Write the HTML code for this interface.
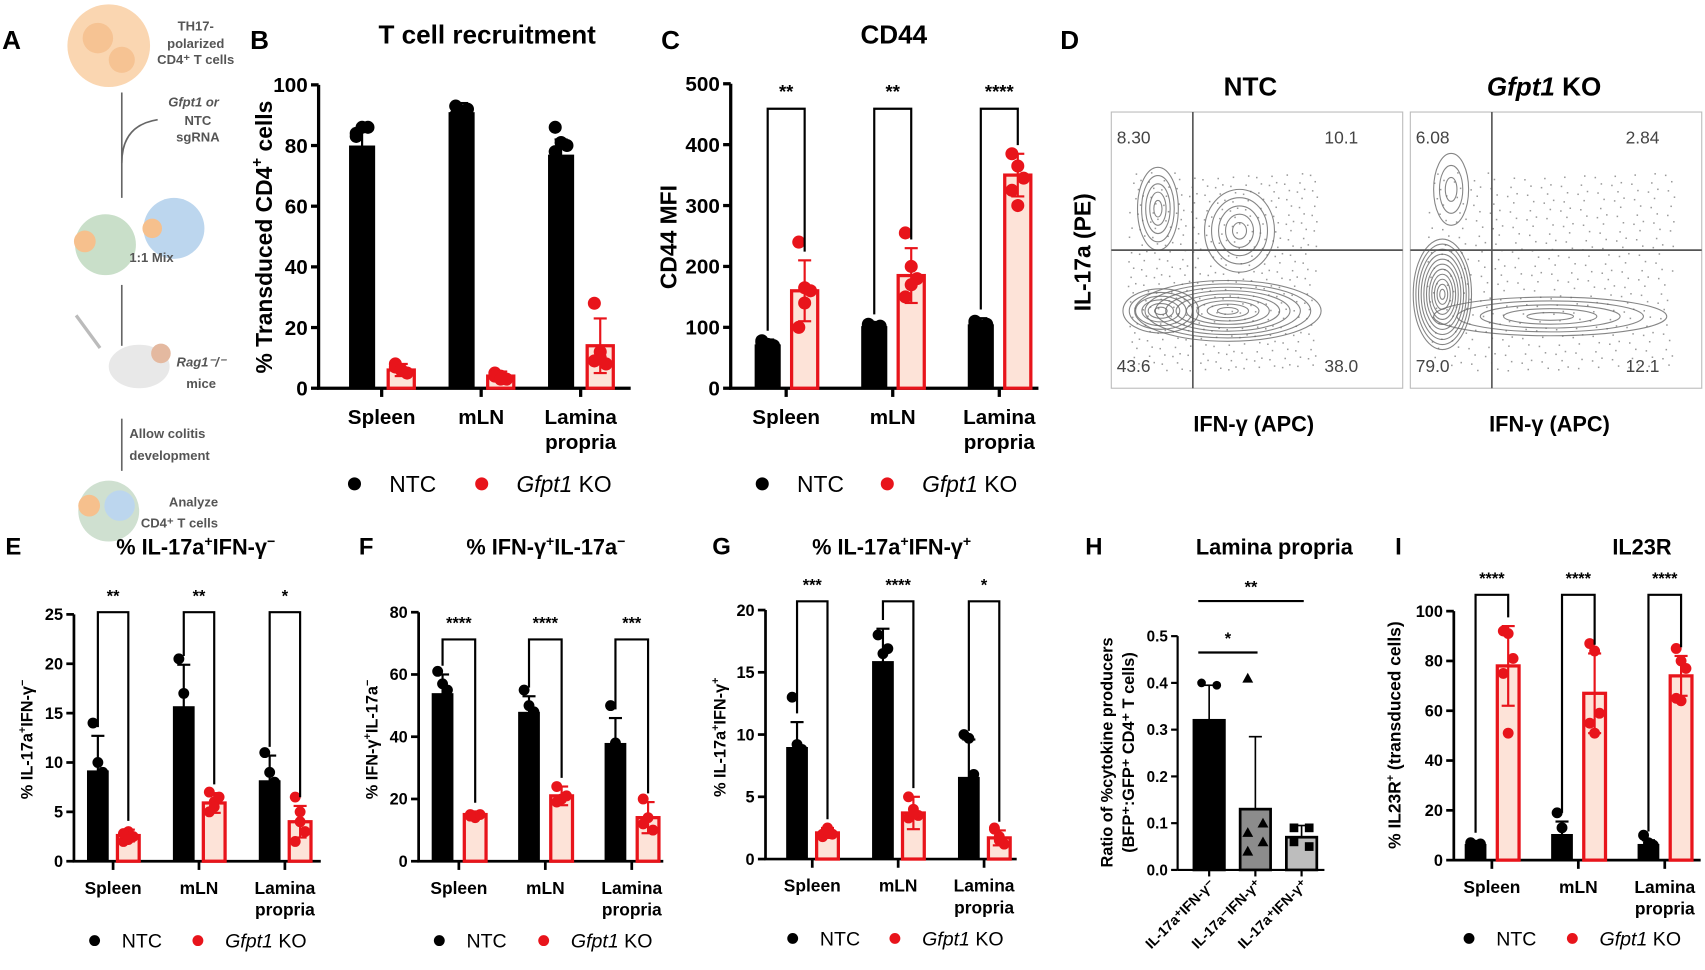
<!DOCTYPE html>
<html><head><meta charset="utf-8"><style>
html,body{margin:0;padding:0;background:#fff;}
svg{display:block;font-family:"Liberation Sans",Arial,sans-serif;}
.b{font-weight:bold;}
</style></head><body>
<svg id="fig" width="1705" height="970" viewBox="0 0 1568 892" xmlns="http://www.w3.org/2000/svg">
<g>
<text x="2" y="45" class="b" font-size="24">A</text>
<circle cx="100" cy="42" r="38" fill="#f9cfa3" opacity="0.85"/>
<circle cx="90" cy="35" r="14" fill="#f4b57e" opacity="0.6"/><circle cx="112" cy="55" r="12" fill="#f4b57e" opacity="0.6"/>
<text font-size="12" fill="#555" class="b" text-anchor="middle"><tspan x="180" y="28">TH17-</tspan><tspan x="180" y="44">polarized</tspan><tspan x="180" y="59">CD4⁺ T cells</tspan></text>
<line x1="112" y1="85" x2="112" y2="182" stroke="#666" stroke-width="1.5"/>
<path d="M112 150 Q112 115 145 110" fill="none" stroke="#666" stroke-width="1.5"/>
<text font-size="12" fill="#555" class="b" text-anchor="middle"><tspan x="178" y="98" font-style="italic">Gfpt1 or</tspan><tspan x="182" y="115">NTC</tspan><tspan x="182" y="130">sgRNA</tspan></text>
<circle cx="97" cy="225" r="28" fill="#c9dfc9"/><circle cx="78" cy="222" r="10" fill="#f6c08d"/>
<circle cx="160" cy="210" r="28" fill="#bcd6ee"/><circle cx="140" cy="210" r="9" fill="#f6c08d"/>
<line x1="112" y1="262" x2="112" y2="318" stroke="#666" stroke-width="1.5"/>
<text x="119" y="241" font-size="12" fill="#555" class="b">1:1 Mix</text>
<ellipse cx="128" cy="337" rx="28" ry="20" fill="#e8e8e8"/><circle cx="148" cy="325" r="9" fill="#e4b9a0"/>
<line x1="70" y1="290" x2="92" y2="320" stroke="#bbb" stroke-width="3"/>
<text font-size="12" fill="#555" class="b" text-anchor="middle"><tspan x="185" y="337" font-style="italic">Rag1⁻/⁻</tspan><tspan x="185" y="357">mice</tspan></text>
<line x1="112" y1="385" x2="112" y2="433" stroke="#666" stroke-width="1.5"/>
<text font-size="12" fill="#555" class="b"><tspan x="119" y="403">Allow colitis</tspan><tspan x="119" y="423">development</tspan></text>
<circle cx="100" cy="470" r="28" fill="#cfe0d0"/><circle cx="110" cy="465" r="14" fill="#bcd6ee"/><circle cx="82" cy="465" r="10" fill="#f6c08d"/>
<text font-size="12" fill="#555" class="b" text-anchor="middle"><tspan x="178" y="466">Analyze</tspan><tspan x="165" y="485">CD4⁺ T cells</tspan></text>
</g>
<text x="230" y="45" class="b" font-size="24">B</text>
<text x="448" y="40" class="b" font-size="24" text-anchor="middle">T cell recruitment</text>
<text x="608" y="45" class="b" font-size="24">C</text>
<text x="822" y="40" class="b" font-size="24" text-anchor="middle">CD44</text>
<text x="975" y="45" class="b" font-size="24">D</text>
<text x="5" y="510" class="b" font-size="22">E</text>
<text x="180" y="510" class="b" font-size="20" text-anchor="middle">% IL-17a<tspan font-size="13" dy="-8">+</tspan><tspan dy="8">IFN-γ</tspan><tspan font-size="13" dy="-8">−</tspan></text>
<text x="330" y="510" class="b" font-size="22">F</text>
<text x="502" y="510" class="b" font-size="20" text-anchor="middle">% IFN-γ<tspan font-size="13" dy="-8">+</tspan><tspan dy="8">IL-17a</tspan><tspan font-size="13" dy="-8">−</tspan></text>
<text x="655" y="510" class="b" font-size="22">G</text>
<text x="820" y="510" class="b" font-size="20" text-anchor="middle">% IL-17a<tspan font-size="13" dy="-8">+</tspan><tspan dy="8">IFN-γ</tspan><tspan font-size="13" dy="-8">+</tspan></text>
<text x="998" y="510" class="b" font-size="22">H</text>
<text x="1172" y="510" class="b" font-size="20" text-anchor="middle">Lamina propria</text>
<text x="1283" y="510" class="b" font-size="22">I</text>
<text x="1510" y="510" class="b" font-size="20" text-anchor="middle">IL23R</text>
<text transform="translate(250,218) rotate(-90)" class="b" font-size="21" text-anchor="middle">% Transduced CD4<tspan font-size="14" dy="-9">+</tspan><tspan dy="9"> cells</tspan></text>
<text transform="translate(622,218) rotate(-90)" class="b" font-size="21" text-anchor="middle">CD44 MFI</text>
<text transform="translate(30,680) rotate(-90)" class="b" font-size="15" text-anchor="middle">% IL-17a<tspan font-size="10" dy="-6">+</tspan><tspan dy="6">IFN-γ</tspan><tspan font-size="10" dy="-6">−</tspan></text>
<text transform="translate(347,680) rotate(-90)" class="b" font-size="15" text-anchor="middle">% IFN-γ<tspan font-size="10" dy="-6">+</tspan><tspan dy="6">IL-17a</tspan><tspan font-size="10" dy="-6">−</tspan></text>
<text transform="translate(667,678) rotate(-90)" class="b" font-size="15" text-anchor="middle">% IL-17a<tspan font-size="10" dy="-6">+</tspan><tspan dy="6">IFN-γ</tspan><tspan font-size="10" dy="-6">+</tspan></text>
<text transform="translate(1033,692) rotate(-90)" class="b" font-size="15" text-anchor="middle"><tspan x="0" dy="-10">Ratio of %cytokine producers</tspan><tspan x="0" dy="20">(BFP⁺:GFP⁺ CD4⁺ T cells)</tspan></text>
<text transform="translate(1288,676) rotate(-90)" class="b" font-size="16" text-anchor="middle">% IL23R<tspan font-size="10" dy="-6">+</tspan><tspan dy="6"> (transduced cells)</tspan></text>
<g>
<text x="1150" y="88" class="b" font-size="24" text-anchor="middle">NTC</text>
<text x="1420" y="88" class="b" font-size="24" text-anchor="middle"><tspan font-style="italic">Gfpt1</tspan> KO</text>
<text transform="translate(1003,232) rotate(-90)" class="b" font-size="21" text-anchor="middle">IL-17a (PE)</text>
<text x="1153" y="397" class="b" font-size="20" text-anchor="middle">IFN-γ (APC)</text>
<text x="1425" y="397" class="b" font-size="20" text-anchor="middle">IFN-γ (APC)</text>
<g id="flowg"></g>
<g font-size="16" fill="#444">
<text x="1027" y="132">8.30</text>
<text x="1218" y="132">10.1</text>
<text x="1027" y="342">43.6</text>
<text x="1218" y="342">38.0</text>
<text x="1302" y="132">6.08</text>
<text x="1495" y="132">2.84</text>
<text x="1302" y="342">79.0</text>
<text x="1495" y="342">12.1</text>
</g>
</g>
<g id="charts"></g>
</svg>
<script>
const catsStd = ["Spleen", "mLN", "Lamina|propria"];
const legendLabels = ["NTC", "Gfpt1 KO"];
const ticksB = [0, 20, 40, 60, 80, 100];
const ntcB = [80, 91, 77];
const ntcErrB = [6, 3, 5];
const koB = [6, 4, 14];
const koErrB = [2, 1.5, 9];
const ntcPtsB = [[84, 86, 86, 83], [93, 91, 92, 90], [86, 81, 80, 78]];
const koPtsB = [[8, 6, 5, 7, 6], [5, 4, 3, 4, 3], [28, 12, 8, 9, 10]];
const ticksC = [0, 100, 200, 300, 400, 500];
const ntcC = [72, 102, 105];
const ntcErrC = [8, 5, 10];
const koC = [160, 185, 350];
const koErrC = [50, 45, 35];
const ntcPtsC = [[78, 72, 70, 75], [105, 100, 102, 103], [110, 100, 105, 108]];
const koPtsC = [[240, 165, 160, 100, 140], [255, 200, 180, 150, 170], [385, 365, 345, 325, 300]];
const starsC = ["**", "**", "****"];
const ticksE = [0, 5, 10, 15, 20, 25];
const ntcE = [9.2, 15.7, 8.2];
const ntcErrE = [3.5, 4.2, 2.5];
const koE = [2.6, 5.9, 4.0];
const koErrE = [0.6, 1, 1.6];
const ntcPtsE = [[14, 10, 9], [20.5, 17, 12], [11, 9, 8]];
const koPtsE = [[2, 3, 2.5, 2.8, 2.2], [5, 6, 6.5, 7, 5.5], [6.5, 5, 3, 2, 4]];
const starsE = ["**", "**", "*"];
const ticksF = [0, 20, 40, 60, 80];
const ntcF = [54, 48, 38];
const ntcErrF = [6, 5, 8];
const koF = [15, 21, 14];
const koErrF = [1, 3, 5];
const ntcPtsF = [[61, 57, 55], [55, 50, 48], [50, 38, 36]];
const koPtsF = [[15, 14, 15, 14.5], [24, 20, 21, 19], [20, 14, 10, 12]];
const starsF = ["****", "****", "***"];
const ticksG = [0, 5, 10, 15, 20];
const ntcG = [9, 15.9, 6.6];
const ntcErrG = [2, 2.6, 3];
const koG = [2.1, 3.7, 1.7];
const koErrG = [0.4, 1.3, 0.6];
const ntcPtsG = [[13, 9.2, 8.8], [18, 16.5, 16.9], [10, 9.7, 6.8]];
const koPtsG = [[2, 2.5, 2, 1.8, 2.3], [5, 4, 3.5, 3.3, 3.6], [2.4, 1.8, 1.2, 2.5, 1.5]];
const starsG = ["***", "****", "*"];
const ticksI = [0, 20, 40, 60, 80, 100];
const ntcI = [6.5, 10.5, 6.5];
const ntcErrI = [1, 5, 1.5];
const koI = [78, 67, 74];
const koErrI = [16, 16, 8];
const ntcPtsI = [[7, 6, 6.5], [19, 13, 8], [10, 7, 6]];
const koPtsI = [[92, 91, 81, 75, 51], [87, 84, 59, 55, 51], [85, 80, 77, 65, 64]];
const starsI = ["****", "****", "****"];
const catsH = ["IL-17a⁺IFN-γ⁻", "IL-17a⁻IFN-γ⁺", "IL-17a⁺IFN-γ⁺"];
const ticksH = [0, 0.1, 0.2, 0.3, 0.4, 0.5];
const valsH = [0.32, 0.13, 0.07];
const errH = [0.075, 0.155, 0.025];
const ptsH = [[0.4, 0.395], [0.41, 0.1, 0.08, 0.06, 0.04], [0.09, 0.09, 0.06, 0.05]];
const sigH = [["*", 0, 1, 0.465], ["**", 0, 2, 0.575]];

const NS = "http://www.w3.org/2000/svg";
const root = document.getElementById("charts");
function mk(tag, attrs, parent) {
  const e = document.createElementNS(NS, tag);
  for (const k in attrs) e.setAttribute(k, attrs[k]);
  (parent || root).appendChild(e);
  return e;
}
const RED = "#e8141b", PINK = "#fde3d8";

function groupedPanel(p) {
  const g = mk("g", {});
  
  
  const max = p.ticks[p.ticks.length - 1];
  const ys = v => p.y0 - (v / max) * (p.y0 - p.y1);
  const xc = i => p.x0 + i * p.gw;
  const ya = mk("line", {x1: p.ax, y1: p.y1, x2: p.ax, y2: p.y0, stroke: "#000", "stroke-width": p.lw}, g);
  
  
  const xa = mk("line", {x1: p.ax - p.lw / 2, y1: p.y0, x2: p.xr, y2: p.y0, stroke: "#000", "stroke-width": p.lw}, g);
  
  
  p.ticks.forEach(t => {
    mk("line", {x1: p.ax - 7, y1: ys(t), x2: p.ax, y2: ys(t), stroke: "#000", "stroke-width": p.lw}, g);
    const tl = mk("text", {x: p.ax - 10, y: ys(t) + p.fs * 0.35, "text-anchor": "end", "font-size": p.fs, "font-weight": "bold"}, g);
    tl.textContent = t;
    
    
  });
  catsStd.forEach((c, i) => {
    mk("line", {x1: xc(i), y1: p.y0, x2: xc(i), y2: p.y0 + 8, stroke: "#000", "stroke-width": p.lw}, g);
    c.split("|").forEach((s, j) => {
      const t = mk("text", {x: xc(i), y: p.y0 + p.cfs + 14 + j * (p.cfs + 4), "text-anchor": "middle", "font-size": p.cfs, "font-weight": "bold"}, g);
      t.textContent = s;
      
      
    });
  });
  const series = [[p.ntc, p.ntcErr, p.ntcPts, -1], [p.ko, p.koErr, p.koPts, 1]];
  series.forEach(([vals, errs, pts, side]) => {
    vals.forEach((v, i) => {
      const cx = xc(i) + side * p.off;
      const ko = side > 0;
      const bar = mk("rect", {x: cx - p.bw / 2, y: ys(v), width: p.bw, height: p.y0 - ys(v),
        fill: ko ? PINK : "#000", stroke: ko ? RED : "none", "stroke-width": ko ? 3 : 0}, g);
      
      
      const col = ko ? RED : "#000";
      const et = ys(v + errs[i]), eb = ys(Math.max(0, v - errs[i]));
      mk("line", {x1: cx, y1: et, x2: cx, y2: eb, stroke: col, "stroke-width": 2}, g);
      mk("line", {x1: cx - 6, y1: et, x2: cx + 6, y2: et, stroke: col, "stroke-width": 2}, g);
      mk("line", {x1: cx - 6, y1: eb, x2: cx + 6, y2: eb, stroke: col, "stroke-width": 2}, g);
      pts[i].forEach((pv, k) => {
        const dx = ((k % 3) - 1) * p.r * 0.9;
        const c = mk("circle", {cx: cx + dx, cy: ys(pv), r: p.r, fill: col}, g);
        
        
      });
    });
  });
  if (p.stars) {
    p.stars.forEach((s, i) => {
      const a = xc(i) - p.off, b = xc(i) + p.off;
      const top = p.by;
      const la = ys(p.ntc[i] + p.ntcErr[i]) - 8, lb = ys(p.ko[i] + p.koErr[i]) - 8;
      const path = mk("path", {d: `M${a} ${Math.max(la, top + 10)} V${top} H${b} V${Math.max(lb, top + 10)}`, fill: "none", stroke: "#000", "stroke-width": 2}, g);
      
      
      const t = mk("text", {x: (a + b) / 2, y: top - 10, "text-anchor": "middle", "font-size": p.sfs, "font-weight": "bold"}, g);
      t.textContent = s;
      
      
    });
  }
  const lg = mk("g", {}, g);
  
  
  mk("circle", {cx: p.lx, cy: p.ly, r: p.r, fill: "#000"}, lg);
  const t1 = mk("text", {x: p.lx + p.lgap, y: p.ly + p.lfs * 0.36, "font-size": p.lfs}, lg);
  t1.textContent = legendLabels[0];
  
  
  mk("circle", {cx: p.lx2, cy: p.ly, r: p.r, fill: RED}, lg);
  const t2 = mk("text", {x: p.lx2 + p.lgap, y: p.ly + p.lfs * 0.36, "font-size": p.lfs}, lg);
  const parts = legendLabels[1].split(" ");
  const ts = mk("tspan", {"font-style": "italic"}, t2); ts.textContent = parts[0];
  const ts2 = mk("tspan", {}, t2); ts2.textContent = " " + parts[1];
  
  
}

const big = {lw: 3, fs: 19, cfs: 19, sfs: 17, r: 6, lfs: 21, lgap: 32};
const sm = {lw: 2.5, fs: 15, cfs: 16, sfs: 15, r: 5, lfs: 18, lgap: 25};
groupedPanel(Object.assign({}, big, {name: "panel-b-chart", ax: 293, xr: 580, y0: 357, y1: 78, x0: 351, gw: 91.5, off: 18, bw: 24,
  ticks: ticksB, ntc: ntcB, ntcErr: ntcErrB, ko: koB, koErr: koErrB, ntcPts: ntcPtsB, koPts: koPtsB, lx: 326, lx2: 443, ly: 445}));
groupedPanel(Object.assign({}, big, {name: "panel-c-chart", ax: 672, xr: 955, y0: 357, y1: 77, x0: 723, gw: 98, off: 17, bw: 24,
  ticks: ticksC, ntc: ntcC, ntcErr: ntcErrC, ko: koC, koErr: koErrC, ntcPts: ntcPtsC, koPts: koPtsC, stars: starsC, by: 100, lx: 701, lx2: 816, ly: 445}));
groupedPanel(Object.assign({}, sm, {name: "panel-e-chart", ax: 68, xr: 295, y0: 792, y1: 565, x0: 104, gw: 79, off: 14, bw: 20,
  ticks: ticksE, ntc: ntcE, ntcErr: ntcErrE, ko: koE, koErr: koErrE, ntcPts: ntcPtsE, koPts: koPtsE, stars: starsE, by: 563, lx: 87, lx2: 182, ly: 865}));
groupedPanel(Object.assign({}, sm, {name: "panel-f-chart", ax: 385, xr: 610, y0: 792, y1: 563, x0: 422, gw: 79.5, off: 15, bw: 20,
  ticks: ticksF, ntc: ntcF, ntcErr: ntcErrF, ko: koF, koErr: koErrF, ntcPts: ntcPtsF, koPts: koPtsF, stars: starsF, by: 588, lx: 404, lx2: 500, ly: 865}));
groupedPanel(Object.assign({}, sm, {name: "panel-g-chart", ax: 704, xr: 935, y0: 790, y1: 561, x0: 747, gw: 79, off: 14, bw: 20,
  ticks: ticksG, ntc: ntcG, ntcErr: ntcErrG, ko: koG, koErr: koErrG, ntcPts: ntcPtsG, koPts: koPtsG, stars: starsG, by: 553, lx: 729, lx2: 823, ly: 863}));
groupedPanel(Object.assign({}, sm, {name: "panel-i-chart", ax: 1337, xr: 1564, y0: 791, y1: 562, x0: 1372, gw: 79.5, off: 15, bw: 20,
  ticks: ticksI, ntc: ntcI, ntcErr: ntcErrI, ko: koI, koErr: koErrI, ntcPts: ntcPtsI, koPts: koPtsI, stars: starsI, by: 547, lx: 1351, lx2: 1446, ly: 863}));

(function () {
  const g = mk("g", {});
  
  
  const y0 = 800, y1 = 585, ax = 1083, x0 = 1112, gw = 42.5, bw = 28;
  const ys = v => y0 - (v / 0.5) * (y0 - y1);
  const xc = i => x0 + i * gw;
  mk("line", {x1: ax, y1: y1, x2: ax, y2: y0, stroke: "#000", "stroke-width": 2}, g);
  mk("line", {x1: ax, y1: y0, x2: 1218, y2: y0, stroke: "#000", "stroke-width": 2}, g);
  ticksH.forEach(t => {
    mk("line", {x1: ax - 6, y1: ys(t), x2: ax, y2: ys(t), stroke: "#000", "stroke-width": 2}, g);
    const tl = mk("text", {x: ax - 9, y: ys(t) + 5, "text-anchor": "end", "font-size": 14, "font-weight": "bold"}, g);
    tl.textContent = t.toFixed(1);
    
    
  });
  const fills = ["#000", "#8c8c8c", "#bdbdbd"];
  valsH.forEach((v, i) => {
    const cx = xc(i);
    const bar = mk("rect", {x: cx - bw / 2, y: ys(v), width: bw, height: y0 - ys(v), fill: fills[i], stroke: "#000", "stroke-width": 2.5}, g);
    
    
    const et = ys(v + errH[i]);
    mk("line", {x1: cx, y1: et, x2: cx, y2: ys(v), stroke: "#000", "stroke-width": 1.5}, g);
    mk("line", {x1: cx - 6, y1: et, x2: cx + 6, y2: et, stroke: "#000", "stroke-width": 1.5}, g);
    ptsH[i].forEach((pv, k) => {
      const dx = (k % 2 ? 1 : -1) * 7;
      const py = ys(pv);
      let m;
      if (i === 0) m = mk("circle", {cx: cx + dx, cy: py, r: 4, fill: "#000"}, g);
      else if (i === 1) m = mk("path", {d: `M${cx + dx} ${py - 5} L${cx + dx + 5} ${py + 4} L${cx + dx - 5} ${py + 4} Z`, fill: "#000"}, g);
      else m = mk("rect", {x: cx + dx - 4, y: py - 4, width: 8, height: 8, fill: "#000"}, g);
      
      
    });
    const cl = mk("text", {transform: `translate(${cx + 6},${y0 + 14}) rotate(-45)`, "text-anchor": "end", "font-size": 13, "font-weight": "bold"}, g);
    cl.textContent = catsH[i];
    
    
    mk("line", {x1: cx, y1: y0, x2: cx, y2: y0 + 6, stroke: "#000", "stroke-width": 2}, g);
  });
  sigH.forEach(([s, a, b, v]) => {
    const y = ys(v);
    const l = mk("line", {x1: xc(a) - 10, y1: y, x2: xc(b) + 2, y2: y, stroke: "#000", "stroke-width": 2}, g);
    
    
    const t = mk("text", {x: (xc(a) + xc(b)) / 2 - 4, y: y - 8, "text-anchor": "middle", "font-size": 15, "font-weight": "bold"}, g);
    t.textContent = s;
    
    
  });
})();

(function () {
  const fg = document.getElementById("flowg");
  const boxes = [[1022, 103, 268, 254, 1097], [1297, 103, 268, 254, 1372]];
  boxes.forEach(([x, y, w, h, cx], bi) => {
    const b = mk("rect", {x, y, width: w, height: h, fill: "none", stroke: "#bbb", "stroke-width": 1}, fg);
    
    
    for (let i = 1; i < 420; i++) {
      const u = (i * 0.7548776662) % 1, v = (i * 0.5698402910) % 1;
      const px = x + 15 + u * w * (bi ? 0.85 : 0.65);
      const py = y + 55 + v * h * 0.72;
      mk("rect", {x: px, y: py, width: 1.4, height: 1.4, fill: "#999"}, fg);
    }
    const blobs = bi === 0
      ? [[0.40, 0.72, 0.32, 0.11, 9], [0.16, 0.35, 0.07, 0.15, 5], [0.44, 0.43, 0.12, 0.15, 5], [0.17, 0.72, 0.13, 0.08, 6]]
      : [[0.11, 0.66, 0.10, 0.20, 11], [0.14, 0.28, 0.06, 0.13, 3], [0.48, 0.74, 0.40, 0.07, 5]];
    blobs.forEach(([fx, fy, rx, ry, n]) => {
      for (let k = 1; k <= n; k++) {
        const s = k / n;
        mk("ellipse", {cx: x + fx * w, cy: y + fy * h, rx: rx * w * s, ry: ry * h * s, fill: "none", stroke: "#666", "stroke-width": 1, opacity: 0.8}, fg);
      }
    });
    mk("line", {x1: cx, y1: y, x2: cx, y2: y + h, stroke: "#555", "stroke-width": 1.5}, fg);
    mk("line", {x1: x, y1: y + 127, x2: x + w, y2: y + 127, stroke: "#555", "stroke-width": 1.5}, fg);
  });
})();
</script>
</body></html>
